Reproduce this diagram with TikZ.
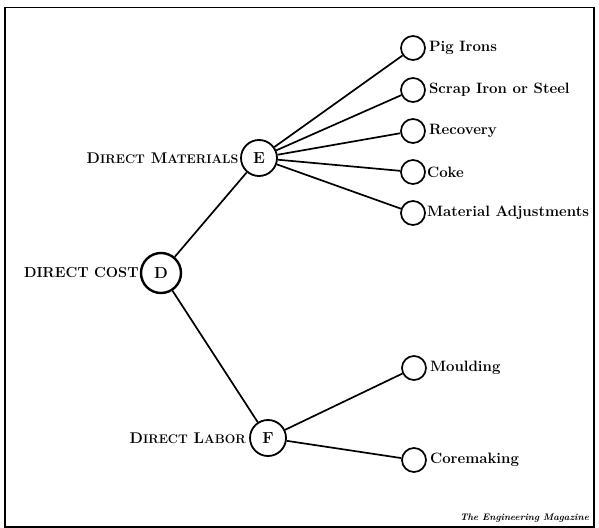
\documentclass[tikz,border=0pt]{standalone}
\usepackage{tikz}
\usetikzlibrary{positioning}

\tikzset{
  rootnode/.style={circle,draw,line width=2.4bp,minimum size=40bp,inner sep=0pt,
    font=\fontsize{16bp}{18bp}\selectfont\bfseries},
  groupnode/.style={circle,draw,line width=1.8bp,minimum size=36bp,inner sep=0pt,
    font=\fontsize{16bp}{18bp}\selectfont\bfseries},
  leafnode/.style={circle,draw,line width=1.7bp,minimum size=24bp,inner sep=0pt},
  leaflabel/.style={inner sep=0pt,anchor=west,font=\fontsize{15bp}{17bp}\selectfont\bfseries},
  headlabel/.style={inner sep=0pt,anchor=east,font=\fontsize{15.5bp}{18bp}\selectfont\bfseries},
  branch/.style={line width=1.7bp},
}
% fake small caps for the group headings
\newcommand{\smc}[2]{#1{\fontsize{12.5bp}{14bp}\selectfont #2}}

\begin{document}
\begin{tikzpicture}[x=1bp,y=-1bp]
  \useasboundingbox (0,0) rectangle (599,528);
  \draw[line width=1.5bp] (5,7.5) rectangle (594,527);

  % cost tree
  \node[rootnode] (D) at (161,273) {D};
  \node[groupnode] (E) at (259,158) {E};
  \node[groupnode] (F) at (268,438) {F};

  \node[headlabel,left=1bp of D,font=\fontsize{14.5bp}{17bp}\selectfont\bfseries] (costlbl) {DIRECT COST};
  \node[headlabel,left=1.5bp of E] (matlbl) {\smc{D}{IRECT} \smc{M}{ATERIALS}};
  \node[headlabel,left=3bp of F] (lablbl) {\smc{D}{IRECT} \smc{L}{ABOR}};

  % materials
  \node[leafnode] (pig)   at (413,48)  {};
  \node[leafnode] (scrap) at (413,90)  {};
  \node[leafnode] (recov) at (413,131) {};
  \node[leafnode] (coke)  at (413,172) {};
  \node[leafnode] (adj)   at (413,213) {};
  % labor
  \node[leafnode] (mould) at (414,368) {};
  \node[leafnode] (core)  at (414,460) {};

  \node[leaflabel,right=3bp of pig]   (piglbl)   {Pig Irons};
  \node[leaflabel,right=3bp of scrap] (scraplbl) {Scrap Iron or Steel};
  \node[leaflabel,right=3bp of recov] (recovlbl) {Recovery};
  \node[leaflabel,right=1bp of coke]  (cokelbl)  {Coke};
  \node[leaflabel,right=1bp of adj]   (adjlbl)   {Material Adjustments};
  \node[leaflabel,right=3bp of mould] (mouldlbl) {Moulding};
  \node[leaflabel,right=3bp of core]  (corelbl)  {Coremaking};

  \draw[branch] (D) -- (E);
  \draw[branch] (D) -- (F);
  \foreach \leaf in {pig,scrap,recov,coke,adj}
    \draw[branch] (E) -- (\leaf);
  \foreach \leaf in {mould,core}
    \draw[branch] (F) -- (\leaf);

  \node[inner sep=0pt,anchor=south east,font=\fontsize{9.5bp}{10bp}\selectfont\bfseries\itshape]
    (credit) at (589,523) {The Engineering Magazine};
\end{tikzpicture}
\end{document}
